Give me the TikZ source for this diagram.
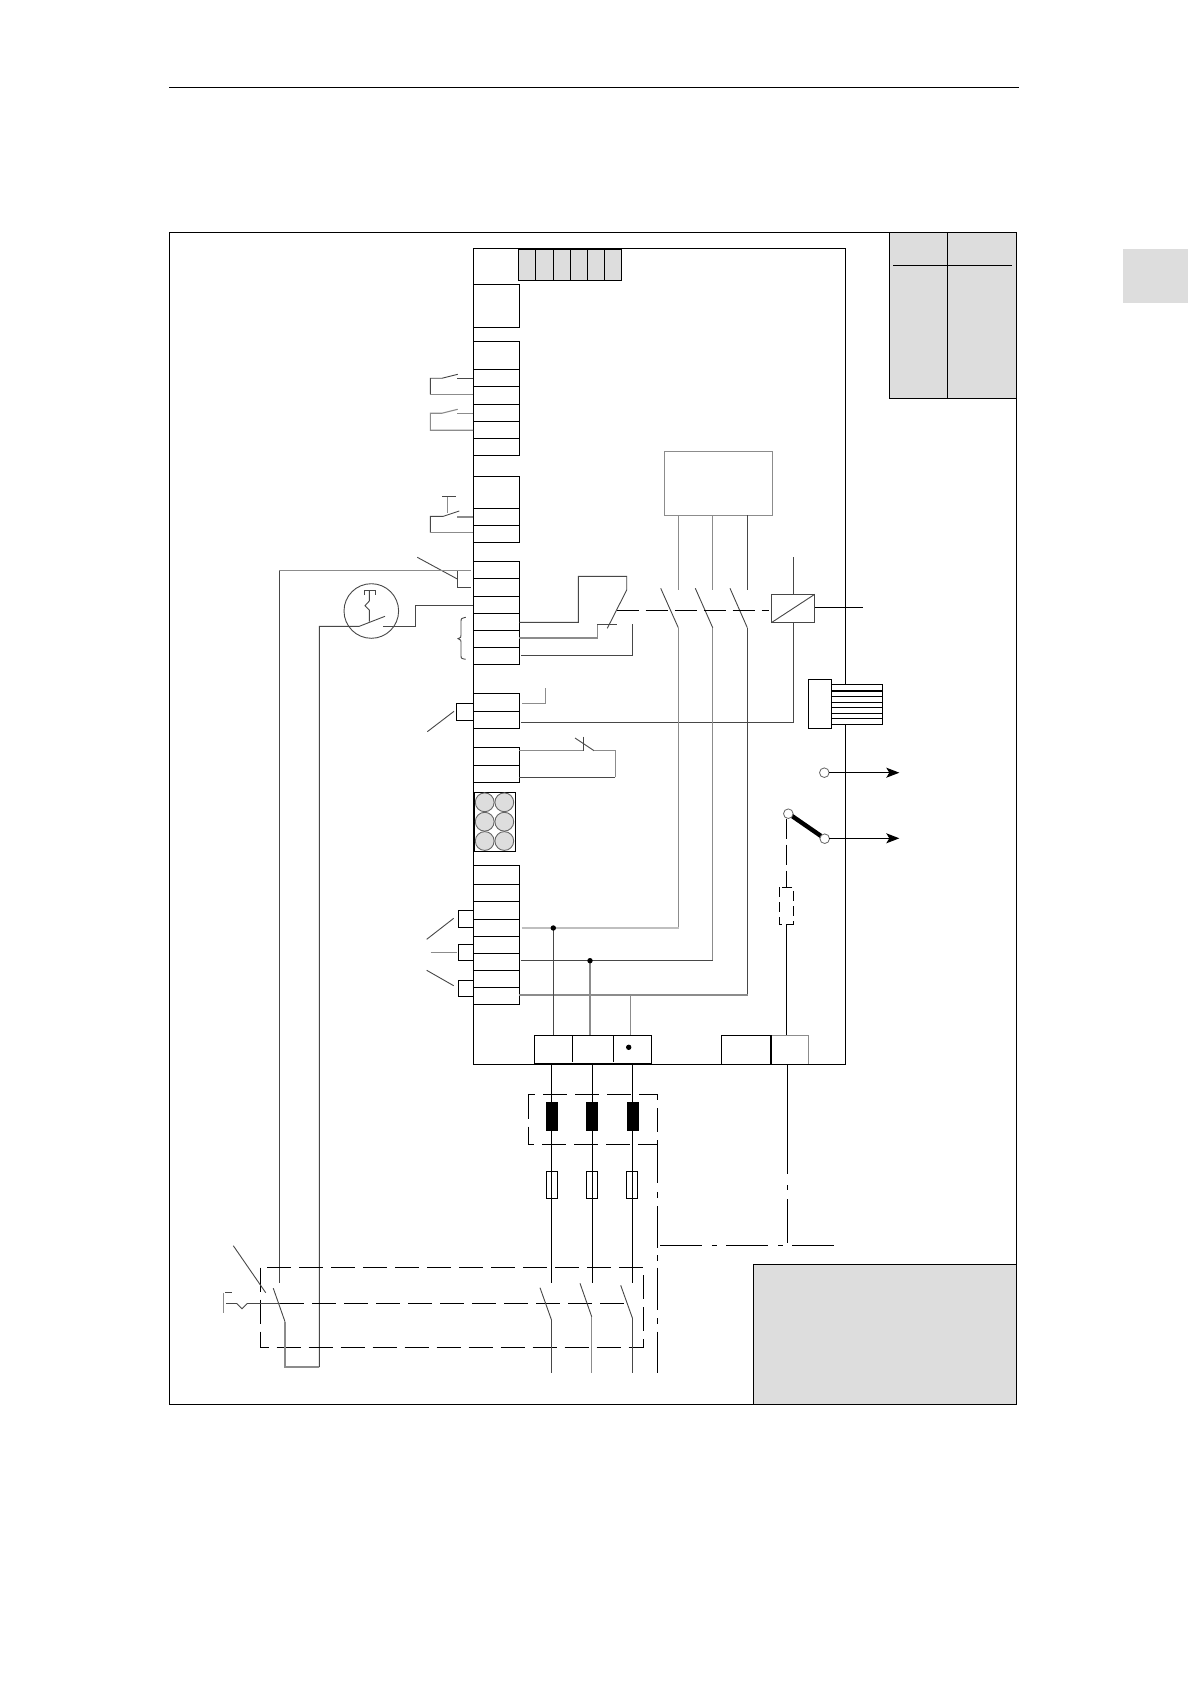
\documentclass[tikz,border=0pt]{standalone}
\usetikzlibrary{arrows.meta}
\definecolor{panel}{HTML}{DDDDDD}
\tikzset{
 blk/.style={draw=black,line width=0.6pt},
 dkw/.style={draw=black!72,line width=0.45pt},
 grw/.style={draw=black!45,line width=0.55pt},
 ltw/.style={draw=black!25,line width=0.65pt},
 dashlong/.style={draw=black,line width=0.6pt,dash pattern=on 12pt off 4pt},
 dashshort/.style={draw=black,line width=0.6pt,dash pattern=on 5pt off 2.5pt},
 pole/.style={draw=black!72,line width=0.45pt},
 tab/.style={blk,fill=white},
 ring/.style={draw=black!60,line width=0.4pt,fill=white},
 ball/.style={draw=black!60,line width=0.45pt,fill=panel},
 dotb/.style={fill=black,draw=none},
 arrowline/.style={draw=black,line width=0.5pt,-{Stealth[length=6.5pt,width=5pt,inset=1.5pt]}}
}
\begin{document}
\begin{tikzpicture}[x=0.5pt,y=-0.5pt]
\useasboundingbox (0,0) rectangle (1190,1684);
\fill[white] (0,0) rectangle (1190,1684);
% page furniture
\draw[blk] (169.3,87.5) -- (1018.7,87.5);
\fill[panel] (1123.3,249) rectangle (1188,302.7);
% frame
\draw[blk] (169.3,232.5) rectangle (1016.7,1404.5);
% table
\draw[blk,fill=panel] (889.7,232.5) rectangle (1016.7,398.5);
\draw[blk] (947.3,232.5) -- (947.3,398.5);
\draw[blk] (893,265.5) -- (1011.7,265.5);
% lower right panel
\draw[blk,fill=panel] (753.5,1264.5) rectangle (1016.7,1404.5);
% main board
\draw[blk] (473.3,248.7) rectangle (845.3,1064.3);
% top connector
\draw[blk,fill=panel] (518.3,249.5) rectangle (621.3,280.3);
\foreach \x in {535.3,553.3,570.3,587.3,604.3} \draw[blk] (\x,249) -- (\x,280.3);
% terminal blocks
\draw[blk] (473.3,284.3) rectangle (519.3,327.3);
\draw[blk] (473.3,341.3) rectangle (519.3,455.3);
\foreach \y in {369.3,386.4,404.3,421.3,438.3} \draw[blk] (473.3,\y) -- (519.3,\y);
\draw[blk] (473.3,476.3) rectangle (519.3,542.3);
\foreach \y in {508.3,525.3} \draw[blk] (473.3,\y) -- (519.3,\y);
\draw[blk] (473.3,561.3) rectangle (519.3,664.3);
\foreach \y in {578.3,596.3,613.3,630.3,647.3} \draw[blk] (473.3,\y) -- (519.3,\y);
\draw[blk] (473.3,693.3) rectangle (519.3,728.3);
\draw[blk] (473.3,711.3) -- (519.3,711.3);
\draw[blk] (473.3,747.3) rectangle (519.3,782.3);
\draw[blk] (473.3,765.3) -- (519.3,765.3);
\draw[blk] (473.3,865.3) rectangle (519.3,1004.3);
\foreach \y in {884.3,901.3,919.3,936.3,953.3,970.3,987.3} \draw[blk] (473.3,\y) -- (519.3,\y);
% six-way socket
\draw[blk] (474.3,792.3) rectangle (515.7,851.3);
\foreach \x in {484.7,504.3} \foreach \y in {802.3,821.7,841}
  \path[ball] (\x,\y) circle[radius=4.7pt];
% side squares
\draw[blk] (473.3,910.3) -- (458.3,910.3) -- (458.3,927.7) -- (473.3,927.7);
\draw[blk] (473.3,944.3) -- (458.3,944.3) -- (458.3,960.3) -- (473.3,960.3);
\draw[blk] (473.3,980.3) -- (458.3,980.3) -- (458.3,996.3) -- (473.3,996.3);
\draw[blk] (473.3,703.3) -- (456.7,703.3) -- (456.7,720.3) -- (473.3,720.3);
\draw[dkw] (426.7,939.3) -- (453.7,918.3);
\draw[grw] (430.7,952.7) -- (457.3,952.7);
\draw[dkw] (426.7,970.3) -- (453.7,985.7);
\draw[dkw] (427.3,731.7) -- (454,711.3);
% normally open contacts, left
\draw[dkw] (473,378.3) -- (457.3,378.3);
\draw[dkw] (457.7,374.3) -- (441.7,378.3) -- (430.3,378.3) -- (430.3,394.3);
\draw[grw] (430.3,394.3) -- (473,394.3);
\draw[grw] (473,413.3) -- (457.3,413.3);
\draw[grw] (457.7,409.3) -- (441.7,413.3) -- (430.3,413.3) -- (430.3,430.3) -- (473,430.3);
\draw[grw] (473,517) -- (457.3,517);
\draw[dkw] (459.3,511) -- (443.3,516.3) -- (430.3,516.3) -- (430.3,532.7);
\draw[grw] (430.3,532.7) -- (473,532.7);
\draw[grw] (447.7,496.7) -- (447.7,513.3);
\draw[dkw] (442.3,496.7) -- (455.7,496.7);
% lead to thermal and isolator
\draw[dkw] (417.3,557.3) -- (457.3,579);
\draw[dkw] (470.7,587.3) -- (457.3,587.3) -- (457.3,570.7);
\draw[grw] (470.7,570.7) -- (279.3,570.7);
\draw[dkw] (279.3,570.7) -- (279.3,1283);
% thermal contact
\draw[dkw] (371.3,611) circle[radius=13.65pt];
\draw[dkw] (319.3,1367) -- (319.3,626.3) -- (359.3,626.3) -- (385,616.3);
\draw[dkw] (383.3,626.3) -- (415.7,626.3) -- (415.7,605.7) -- (472.7,605.7);
\draw[dkw] (369.3,621.7) -- (369.3,610) -- (365,605.7) -- (369.3,601) -- (369.3,590.7);
\draw[dkw] (364,595) -- (364,590.7) -- (375,590.7) -- (375,595);
% brace
\draw[dkw] (465.7,617.3) .. controls (461,618.5) .. (461,622) -- (461,635) .. controls (461,637.5) .. (458,638.7) .. controls (461,640) .. (461,642) -- (461,655) .. controls (461,658.5) .. (465.7,659.3);
% auxiliary contact of contactor
\draw[dkw] (519.3,622.3) -- (578.3,622.3) -- (578.3,576.3) -- (626.7,576.3) -- (626.7,590) -- (607.3,628.3);
\draw[grw] (519.3,638) -- (597.3,638) -- (597.3,624.3);
\draw[dkw] (597.3,624.3) -- (616.7,624.3);
\draw[dkw] (521,655.3) -- (632.3,655.3) -- (632.3,624.3);
% block 5 leads
\draw[grw] (522.3,703.3) -- (545.7,703.3) -- (545.7,688.3);
\draw[dkw] (521,722.3) -- (793.3,722.3) -- (793.3,622.7);
% block 6 NC contact
\draw[grw] (519.3,750.7) -- (583.3,750.7);
\draw[dkw] (583.3,736.7) -- (583.3,750.7);
\draw[dkw] (575,738) -- (594,750.7);
\draw[grw] (594,750.7) -- (615.3,750.7) -- (615.3,777.3);
\draw[dkw] (615.3,777.3) -- (519.3,777.3);
% control box
\draw[grw] (664.7,451.7) rectangle (772.7,515.3);
\draw[grw] (678.3,515.3) -- (678.3,590);
\draw[grw] (712.7,515.3) -- (712.7,590);
\draw[dkw] (747.3,515.3) -- (747.3,590);
% contactor poles
\draw[pole] (660.7,588.3) -- (678.3,627.7);
\draw[pole] (695.3,588.3) -- (712.7,627.7);
\draw[pole] (730,588.3) -- (747.3,627.7);
\draw[dashlong,dash pattern=on 11pt off 3.5pt] (616.7,610.3) -- (769.3,610.3);
\draw[grw] (678.3,627.7) -- (678.3,928);
\draw[grw] (712.7,627.7) -- (712.7,960.3);
\draw[dkw] (747.3,627.7) -- (747.3,995);
% coil
\draw[dkw] (793.3,557) -- (793.3,594.3);
\draw[dkw] (771.3,594.3) rectangle (814.7,622.7);
\draw[dkw] (771.3,622.7) -- (814.7,594.3);
\draw[blk,line width=0.45pt] (814.7,607.3) -- (862.7,607.3);
% motor connector
\draw[tab] (831.7,684.3) rectangle (882.7,724.7);
\foreach \y in {691,696.7,702.3,707.7,713.3,718.7} \draw[blk] (831.7,\y) -- (882.7,\y);
\draw[tab] (808.3,679.3) rectangle (831.7,728.3);
% outputs
\path[ring] (824.3,772.7) circle[radius=2.4pt];
\draw[arrowline] (829,772.7) -- (899.3,772.7);
\draw[black,line width=2.2pt] (792,816) -- (821,836);
\path[ring] (788.3,813.7) circle[radius=2.4pt];
\path[ring] (824.7,838.7) circle[radius=2.4pt];
\draw[arrowline] (829.3,838.3) -- (899.3,838.3);
\draw[dashlong,dash pattern=on 10pt off 3pt] (786.5,818.5) -- (786.5,887.3);
\draw[dashshort] (779.3,887.3) rectangle (793.7,924.3);
\draw[blk] (786.7,924.3) -- (786.7,1035.3);
% sense lines to bottom connector
\draw[ltw] (521.7,928) -- (678.5,928);
\draw[dkw] (520.7,960.3) -- (713,960.3);
\draw[grw] (519.3,995) -- (747.5,995);
\draw[dkw] (553.3,928) -- (553.3,1035.3);
\draw[grw] (590,960.7) -- (590,1035.3);
\draw[grw] (630.3,995) -- (630.3,1035.3);
\fill[dotb] (553.3,928) circle[radius=1.35pt];
\fill[dotb] (590,960.7) circle[radius=1.35pt];
% bottom connectors
\draw[blk] (534.3,1035.3) rectangle (651.7,1063.3);
\draw[blk] (572.3,1035.3) -- (572.3,1062);
\draw[blk] (613.3,1035.3) -- (613.3,1062);
\fill[dotb] (628.7,1047.3) circle[radius=1.35pt];
\draw[blk] (721.3,1064.3) -- (721.3,1035.3) -- (770.7,1035.3) -- (770.7,1064.3);
\draw[blk] (771.5,1035.3) -- (771.5,1064.3);
\draw[grw] (771.5,1035.3) -- (808.7,1035.3) -- (808.7,1064);
% mains
\foreach \x in {551.5,592.3,632.5} \draw[blk] (\x,1064.3) -- (\x,1282.7);
\fill[black] (546,1102) rectangle (558,1131);
\fill[black] (586,1102) rectangle (598,1131);
\fill[black] (627,1102) rectangle (639,1131);
\draw[dashlong] (528.3,1094.5) rectangle (657.5,1144.5);
\draw[blk] (546.3,1171.3) rectangle (557.7,1198.7);
\draw[blk] (586.3,1171.3) rectangle (597.7,1198.7);
\draw[blk] (626.3,1171.3) rectangle (637.7,1198.7);
% PE / chain lines
\draw[blk] (657.3,1144.3) -- (657.3,1183);
\draw[blk] (657.3,1192.3) -- (657.3,1198.3);
\draw[blk] (657.3,1206) -- (657.3,1248);
\draw[blk] (657.3,1255) -- (657.3,1260.7);
\draw[blk] (657.3,1267.7) -- (657.3,1310);
\draw[blk] (657.3,1318.3) -- (657.3,1324);
\draw[blk] (657.3,1331.7) -- (657.3,1372.7);
\draw[blk] (660,1245.5) -- (702.3,1245.5);
\draw[blk] (712.3,1245.5) -- (717.3,1245.5);
\draw[blk] (726,1245.5) -- (768.3,1245.5);
\draw[blk] (778.3,1245.5) -- (783.3,1245.5);
\draw[blk] (792.3,1245.5) -- (834,1245.5);
\draw[blk] (787.3,1064.3) -- (787.3,1174.3);
\draw[blk] (787.3,1185) -- (787.3,1190);
\draw[blk] (787.3,1199.3) -- (787.3,1242.7);
% main switch
\draw[dashlong] (260.5,1267.5) rectangle (643.5,1347.5);
\draw[dashlong] (280,1303.5) -- (628,1303.5);
\draw[dkw] (226,1303.5) -- (236.7,1303.5) -- (242,1308.7) -- (247.3,1303.5) -- (280,1303.5);
\draw[dkw] (225,1292.7) -- (232,1292.7);
\draw[grw] (223.3,1292.7) -- (223.3,1313.3);
\draw[dkw] (233.3,1245.7) -- (265.7,1292.7);
\draw[pole] (273.3,1288.3) -- (285,1321.7);
\draw[grw] (285,1321.7) -- (285,1367) -- (319.3,1367);
\draw[pole] (540,1287.7) -- (551.5,1320);
\draw[pole] (580,1283.3) -- (591.7,1316.7);
\draw[pole] (620.7,1285.3) -- (632.5,1318.3);
\draw[dkw] (551.5,1320) -- (551.5,1373.3);
\draw[grw] (591.7,1316.7) -- (591.7,1373.3);
\draw[dkw] (632.5,1318.3) -- (632.5,1373.3);
\end{tikzpicture}
\end{document}
